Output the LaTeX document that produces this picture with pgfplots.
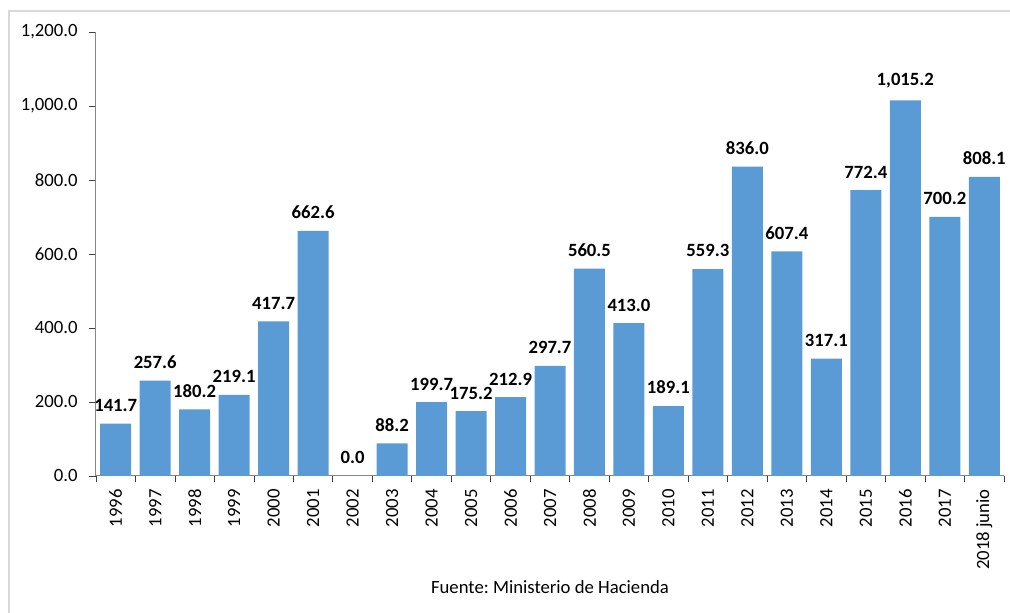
\documentclass[border=0pt]{standalone}
\usepackage{fontspec}
\setmainfont{Carlito}
\usepackage{pgfplots}
\pgfplotsset{compat=1.18}
\definecolor{barblue}{HTML}{5B9BD5}
\definecolor{axgray}{HTML}{868686}
\definecolor{framegray}{HTML}{D9D9D9}

\begin{document}
\fontsize{18.7}{22}\selectfont
\frenchspacing
\begin{tikzpicture}
\path[use as bounding box] (0pt,0pt) rectangle (1010pt,613pt);
\draw[framegray, line width=2pt] (9pt,0pt) -- (9pt,602pt) -- (1010pt,602pt);
\begin{axis}[
    at={(96pt,137pt)}, anchor=south west,
    scale only axis,
    width=908pt, height=444pt,
    ymin=0, ymax=1200,
    xmin=-0.5, xmax=22.5,
    ybar, bar width=31pt,
    axis lines*=left,
    axis line style={axgray, line width=1pt},
    tick align=outside,
    major tick length=7pt,
    minor tick length=6pt,
    tick style={black!75, line width=0.8pt},
    major x tick style={draw=none},
    ytick={0,200,...,1200},
    scaled y ticks=false,
    xtick={0,...,22},
    minor xtick={-0.5,0.5,...,22.5},
    xticklabels={1996,1997,1998,1999,2000,2001,2002,2003,2004,2005,2006,2007,2008,2009,2010,2011,2012,2013,2014,2015,2016,2017,2018 junio},
    xticklabel style={rotate=90, anchor=east},
    yticklabel style={xshift=-5pt, /pgf/number format/.cd, fixed, fixed zerofill, precision=1, 1000 sep={,}, assume math mode=true},
    nodes near coords,
    every node near coord/.append style={font=\bfseries, yshift=5.5pt,
        /pgf/number format/.cd, fixed, fixed zerofill, precision=1, 1000 sep={,}, assume math mode=true},
    clip=false,
]
\addplot[fill=barblue, draw=none] coordinates {
    (0,141.7) (1,257.6) (2,180.2) (3,219.1) (4,417.7) (5,662.6)
    (6,0.0) (7,88.2) (8,199.7) (9,175.2) (10,212.9) (11,297.7)
    (12,560.5) (13,413.0) (14,189.1) (15,559.3) (16,836.0) (17,607.4)
    (18,317.1) (19,772.4) (20,1015.2) (21,700.2) (22,808.1)
};
\end{axis}
\node at (550pt,26pt) {Fuente: Ministerio de Hacienda};
\end{tikzpicture}
\end{document}
